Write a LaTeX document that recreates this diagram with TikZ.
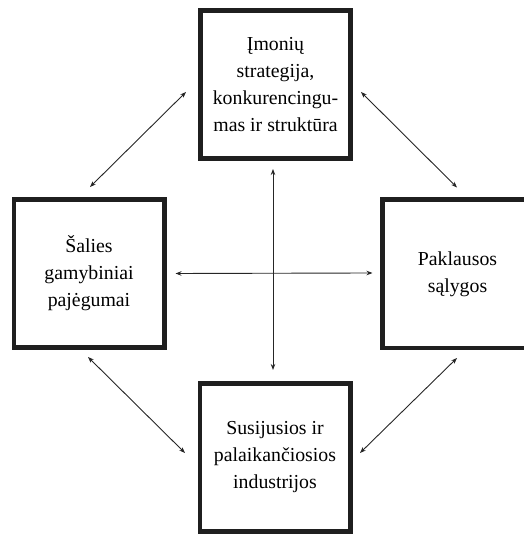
\documentclass[tikz,border=0pt]{standalone}
\usepackage{fontspec}
\setmainfont{Liberation Serif}
\usetikzlibrary{arrows.meta}
\begin{document}
\begin{tikzpicture}[x=1pt,y=1pt,
  box/.style={draw=black!88, line width=4.8pt, minimum width=150.2pt, minimum height=148.2pt,
    align=center, inner sep=0pt, font=\fontsize{19.8}{27}\selectfont},
  arr/.style={draw=black!85, line width=0.9pt, {Stealth[length=6pt,width=4.5pt]}-{Stealth[length=6pt,width=4.5pt]}}]
\useasboundingbox (0,0) rectangle (523,534);
\node[box] (T) at (275.5,449.5) {Įmonių\\strategija,\\konkurencingu-\\mas ir struktūra};
\node[box] (L) at (89,260.5) {Šalies\\gamybiniai\\pajėgumai};
\node[box] (R) at (457.5,260) {Paklausos\\sąlygos};
\node[box] (B) at (275,76.5) {Susijusios ir\\palaikančiosios\\industrijos};
% cross
\draw[arr] ([xshift=-2.5pt,yshift=-8pt]T.south) -- ([xshift=-2pt,yshift=11pt]B.north);
\draw[arr] ([xshift=9pt]L.east) -- ([xshift=-7.5pt,yshift=1pt]R.west);
% diagonals
\draw[arr] ([xshift=1pt,yshift=10pt]L.north) -- ([xshift=-12pt,yshift=-7.5pt]T.west);
\draw[arr] ([xshift=8pt,yshift=-7.5pt]T.east) -- ([xshift=-0.5pt,yshift=10pt]R.north);
\draw[arr] ([xshift=-1pt,yshift=-7pt]L.south) -- ([xshift=-12.5pt,yshift=4.5pt]B.west);
\draw[arr] ([xshift=7.5pt,yshift=4.5pt]B.east) -- ([xshift=-0.5pt,yshift=-7.5pt]R.south);
\end{tikzpicture}
\end{document}
